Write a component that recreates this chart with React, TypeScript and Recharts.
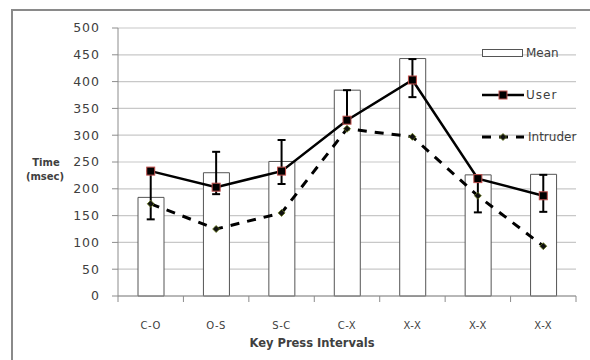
import React from 'react';
import { Bar, ComposedChart, CartesianGrid, ErrorBar, Label, Line, XAxis, YAxis } from 'recharts';

const intervals = ['C-O', 'O-S', 'S-C', 'C-X', 'X-X', 'X-X', 'X-X'];
const meanTimes = [184, 230, 251, 384, 443, 226, 227];
const userTimes = [233, 203, 233, 328, 403, 219, 187];
const userErrors: [number, number][] = [
  [90, 0],
  [13, 66],
  [24, 58],
  [0, 56],
  [32, 39],
  [63, 0],
  [30, 39],
];
const intruderTimes = [172, 125, 155, 312, 297, 187, 93];
const yTicks = [0, 50, 100, 150, 200, 250, 300, 350, 400, 450, 500];

const data = intervals.map((name, i) => ({
  key: `${name}-${i}`,
  name,
  mean: meanTimes[i],
  user: userTimes[i],
  userErr: userErrors[i],
  intruder: intruderTimes[i],
}));

const FONT = '"DejaVu Sans", sans-serif';
const TEXT = '#404040';
const PLOT_W = 458;
const BAND = PLOT_W / intervals.length;

function XTick(props: any) {
  const { x, y, index } = props;
  const label = intervals[index];
  return (
    <g>
      <line x1={x - BAND / 2} x2={x - BAND / 2} y1={y} y2={y + 6} stroke="#8c8c8c" />
      {index === intervals.length - 1 && (
        <line x1={x + BAND / 2} x2={x + BAND / 2} y1={y} y2={y + 6} stroke="#8c8c8c" />
      )}
      <text
        x={x}
        y={y + 33}
        textAnchor="middle"
        fontSize={10}
        letterSpacing={0.5}
        fill={TEXT}
        fontFamily={FONT}
      >
        {label}
      </text>
    </g>
  );
}

function UserDot(props: any) {
  const { cx, cy } = props;
  if (cx == null || cy == null) return null;
  return <rect x={cx - 4} y={cy - 4} width={8} height={8} fill="#000" stroke="#c0504d" strokeWidth={1} />;
}

function IntruderDot(props: any) {
  const { cx, cy } = props;
  if (cx == null || cy == null) return null;
  return (
    <polygon
      points={`${cx},${cy - 3.5} ${cx + 3.5},${cy} ${cx},${cy + 3.5} ${cx - 3.5},${cy}`}
      fill="#111"
      stroke="#6b7d1f"
      strokeWidth={0.8}
    />
  );
}

function LegendBox() {
  const row: React.CSSProperties = {
    display: 'flex',
    alignItems: 'center',
    height: 14,
    fontFamily: FONT,
    fontSize: 12,
    color: TEXT,
  };
  return (
    <div style={{ position: 'absolute', left: 482, top: 46, width: 110 }}>
      <div style={row}>
        <svg width={44} height={14}>
          <rect x={0.5} y={3.5} width={40} height={7} fill="#fff" stroke="#555" />
        </svg>
        <span>Mean</span>
      </div>
      <div style={{ ...row, marginTop: 28 }}>
        <svg width={44} height={14}>
          <line x1={0} x2={42} y1={7} y2={7} stroke="#000" strokeWidth={2.5} />
          <rect x={17} y={3} width={8} height={8} fill="#000" stroke="#c0504d" />
        </svg>
        <span style={{ letterSpacing: 1 }}>User</span>
      </div>
      <div style={{ ...row, marginTop: 28 }}>
        <svg width={46} height={14}>
          <line x1={0} x2={42} y1={7} y2={7} stroke="#000" strokeWidth={3} strokeDasharray="9 8" />
          <polygon points="21,3.5 24.5,7 21,10.5 17.5,7" fill="#111" stroke="#6b7d1f" strokeWidth={0.8} />
        </svg>
        <span>Intruder</span>
      </div>
    </div>
  );
}

function YLabel() {
  return (
    <text x={45} y={166} textAnchor="middle" fontSize={10} fontWeight="bold" fill={TEXT} fontFamily={FONT}>
      <tspan x={46} dy={0}>Time</tspan>
      <tspan x={45} dy={14}>(msec)</tspan>
    </text>
  );
}

export default function App() {
  return (
    <div style={{ position: 'fixed', left: 0, top: 0, width: 590, height: 360, overflow: 'hidden', background: '#fff' }}>
      <div
        style={{
          position: 'absolute',
          left: 11,
          top: 9,
          width: 600,
          height: 380,
          border: '2px solid #8a8a8a',
        }}
      />
      <div style={{ position: 'absolute', left: 0, top: 0 }}>
        <ComposedChart
          width={590}
          height={360}
          data={data}
          margin={{ top: 28, right: 14, bottom: 34, left: 0 }}
        >
          <CartesianGrid vertical={false} stroke="#c8c8c8" strokeWidth={1.2} />
          <XAxis
            dataKey="key"
            height={30}
            stroke="#8c8c8c"
            tickSize={0}
            tickMargin={0}
            tick={<XTick />}
            interval={0}
          >
            <Label
              value="Key Press Intervals"
              position="bottom"
              offset={13}
              dx={-35}
              fontSize={11.5}
              fontWeight="bold"
              fill={TEXT}
              fontFamily={FONT}
            />
          </XAxis>
          <YAxis
            width={118}
            domain={[0, 500]}
            ticks={yTicks}
            stroke="#8c8c8c"
            tickSize={6}
            tickMargin={12}
            tick={{ fontSize: 12.5, fill: TEXT, fontFamily: FONT, letterSpacing: 1 }}
            label={<YLabel />}
          />
          <Bar dataKey="mean" name="Mean" barSize={26} fill="#fff" stroke="#555" strokeWidth={1} isAnimationActive={false} />
          <Line
            dataKey="intruder"
            name="Intruder"
            stroke="#000"
            strokeWidth={3}
            strokeDasharray="9 8"
            dot={<IntruderDot />}
            activeDot={false}
            isAnimationActive={false}
          />
          <Line
            dataKey="user"
            name="User"
            stroke="#000"
            strokeWidth={2.5}
            dot={<UserDot />}
            activeDot={false}
            isAnimationActive={false}
          >
            <ErrorBar dataKey="userErr" width={4} stroke="#000" strokeWidth={2} isAnimationActive={false} />
          </Line>
        </ComposedChart>
      </div>
      <LegendBox />
    </div>
  );
}
